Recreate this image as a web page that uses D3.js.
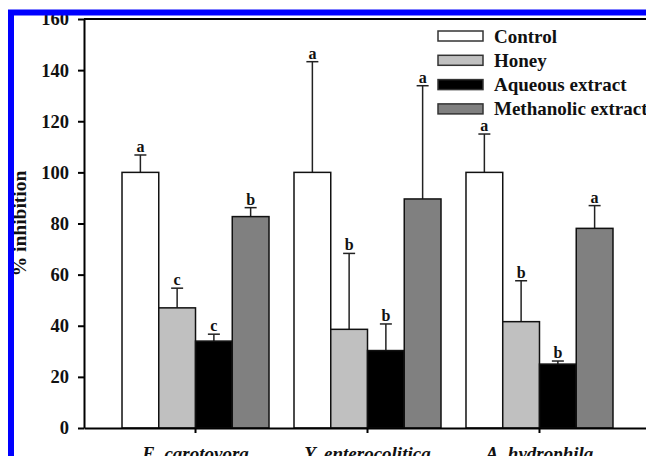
<!DOCTYPE html>
<html>
<head>
<meta charset="utf-8">
<script src="https://cdn.jsdelivr.net/npm/d3@7"></script>
<style>
  body { margin: 0; background: #fff; }
  svg { display: block; }
  text { font-family: "Liberation Serif", "Times New Roman", serif; font-weight: bold; }
</style>
</head>
<body>
<div id="chart"></div>
<script>
var width = 646;
var height = 456;

// data
var categories = ["E.  carotovora", "Y.  enterocolitica", "A.  hydrophila"];
var seriesNames = ["Control", "Honey", "Aqueous extract", "Methanolic extract"];
var seriesColors = ["#ffffff", "#c0c0c0", "#000000", "#808080"];

var controlValues = [100, 100, 100];
var honeyValues = [47, 38.6, 41.6];
var aqueousValues = [34, 30.3, 25];
var methanolicValues = [82.7, 89.6, 78.1];

var controlErrors = [6.8, 43.3, 15];
var honeyErrors = [7.7, 29.7, 16];
var aqueousErrors = [2.7, 10.4, 1.2];
var methanolicErrors = [3.5, 44.3, 8.9];

var controlLetters = ["a", "a", "a"];
var honeyLetters = ["c", "b", "b"];
var aqueousLetters = ["c", "b", "b"];
var methanolicLetters = ["b", "a", "a"];

var yTicks = [0, 20, 40, 60, 80, 100, 120, 140, 160];

var allValues = [controlValues, honeyValues, aqueousValues, methanolicValues];
var allErrors = [controlErrors, honeyErrors, aqueousErrors, methanolicErrors];
var allLetters = [controlLetters, honeyLetters, aqueousLetters, methanolicLetters];

var bars = [];
categories.forEach(function (cat, i) {
  seriesNames.forEach(function (s, j) {
    bars.push({
      category: cat,
      series: s,
      color: seriesColors[j],
      value: allValues[j][i],
      error: allErrors[j][i],
      letter: allLetters[j][i],
    });
  });
});

var svg = d3.select("#chart")
  .append("svg")
  .attr("width", width)
  .attr("height", height);

svg.append("rect")
  .attr("width", width)
  .attr("height", height)
  .attr("fill", "#fff");

var plotLeft = 84, plotTop = 19, plotBottom = 428, plotRight = 651;

var y = d3.scaleLinear().domain([0, 160]).range([plotBottom, plotTop]);

var x0 = d3.scaleBand()
  .domain(categories)
  .range([plotLeft, plotRight])
  .paddingInner(0.1453)
  .paddingOuter(0.221);

var x1 = d3.scaleBand()
  .domain(seriesNames)
  .range([0, x0.bandwidth()]);

function barCenter(d) {
  return x0(d.category) + x1(d.series) + x1.bandwidth() / 2;
}

// top frame line
svg.append("line")
  .attr("x1", plotLeft).attr("x2", plotRight)
  .attr("y1", plotTop).attr("y2", plotTop)
  .attr("stroke", "#000")
  .attr("stroke-width", 2);

var barG = svg.append("g");

// error bars (upper only)
var errG = barG.selectAll(".err")
  .data(bars)
  .enter()
  .append("g")
  .attr("class", "err");

errG.append("line")
  .attr("x1", barCenter)
  .attr("x2", barCenter)
  .attr("y1", function (d) { return y(d.value); })
  .attr("y2", function (d) { return y(d.value + d.error); })
  .attr("stroke", "#222")
  .attr("stroke-width", 1.5);

errG.append("line")
  .attr("x1", function (d) { return barCenter(d) - 6; })
  .attr("x2", function (d) { return barCenter(d) + 6; })
  .attr("y1", function (d) { return y(d.value + d.error); })
  .attr("y2", function (d) { return y(d.value + d.error); })
  .attr("stroke", "#222")
  .attr("stroke-width", 1.5);

errG.append("text")
  .attr("x", barCenter)
  .attr("y", function (d) { return y(d.value + d.error) - 3; })
  .attr("text-anchor", "middle")
  .style("font-size", "16px")
  .attr("fill", "#111")
  .text(function (d) { return d.letter; });

barG.selectAll(".bar")
  .data(bars)
  .enter()
  .append("rect")
  .attr("class", "bar")
  .attr("x", function (d) { return x0(d.category) + x1(d.series); })
  .attr("y", function (d) { return y(d.value); })
  .attr("width", x1.bandwidth())
  .attr("height", function (d) { return y(0) - y(d.value); })
  .attr("fill", function (d) { return d.color; })
  .attr("stroke", "#111")
  .attr("stroke-width", 1.5);

// axes
var yAxis = svg.append("g")
  .attr("transform", "translate(" + plotLeft + ",0)")
  .call(d3.axisLeft(y).tickValues(yTicks).tickSize(6).tickSizeOuter(0).tickPadding(9));

yAxis.selectAll("path, line").attr("stroke", "#000").attr("stroke-width", 2);
yAxis.selectAll("text")
  .style("font-size", "18.5px")
  .style("font-family", "'Liberation Serif', serif")
  .style("font-weight", "bold")
  .attr("fill", "#111");

var xAxis = svg.append("g")
  .attr("transform", "translate(0," + plotBottom + ")")
  .call(d3.axisBottom(x0).tickSize(5).tickSizeOuter(0));

xAxis.selectAll("path, line").attr("stroke", "#000").attr("stroke-width", 2);
xAxis.selectAll("text")
  .attr("y", 32)
  .attr("dy", 0)
  .style("font-size", "19px")
  .style("font-family", "'Liberation Serif', serif")
  .style("font-weight", "bold")
  .style("font-style", "italic")
  .attr("fill", "#111");

// y label
svg.append("text")
  .attr("transform", "translate(26," + (plotTop + plotBottom) / 2 + ") rotate(-90)")
  .attr("text-anchor", "middle")
  .style("font-size", "19.5px")
  .attr("fill", "#111")
  .text("% inhibition");

// legend
var legend = svg.append("g").attr("transform", "translate(438,31)");
var legendItems = legend.selectAll("g")
  .data(seriesNames)
  .enter()
  .append("g")
  .attr("transform", function (d, i) { return "translate(0," + i * 24.3 + ")"; });

legendItems.append("rect")
  .attr("width", 45)
  .attr("height", 10)
  .attr("fill", function (d, i) { return seriesColors[i]; })
  .attr("stroke", "#333")
  .attr("stroke-width", 1.5);

legendItems.append("text")
  .attr("x", 56)
  .attr("y", 11.5)
  .style("font-size", "19px")
  .attr("fill", "#111")
  .text(function (d) { return d; });

// blue frame around the picture
svg.append("rect")
  .attr("x", 11)
  .attr("y", 12.5)
  .attr("width", width + 20)
  .attr("height", height + 20)
  .attr("fill", "none")
  .attr("stroke", "#0000ff")
  .attr("stroke-width", 6);
</script>
</body>
</html>
